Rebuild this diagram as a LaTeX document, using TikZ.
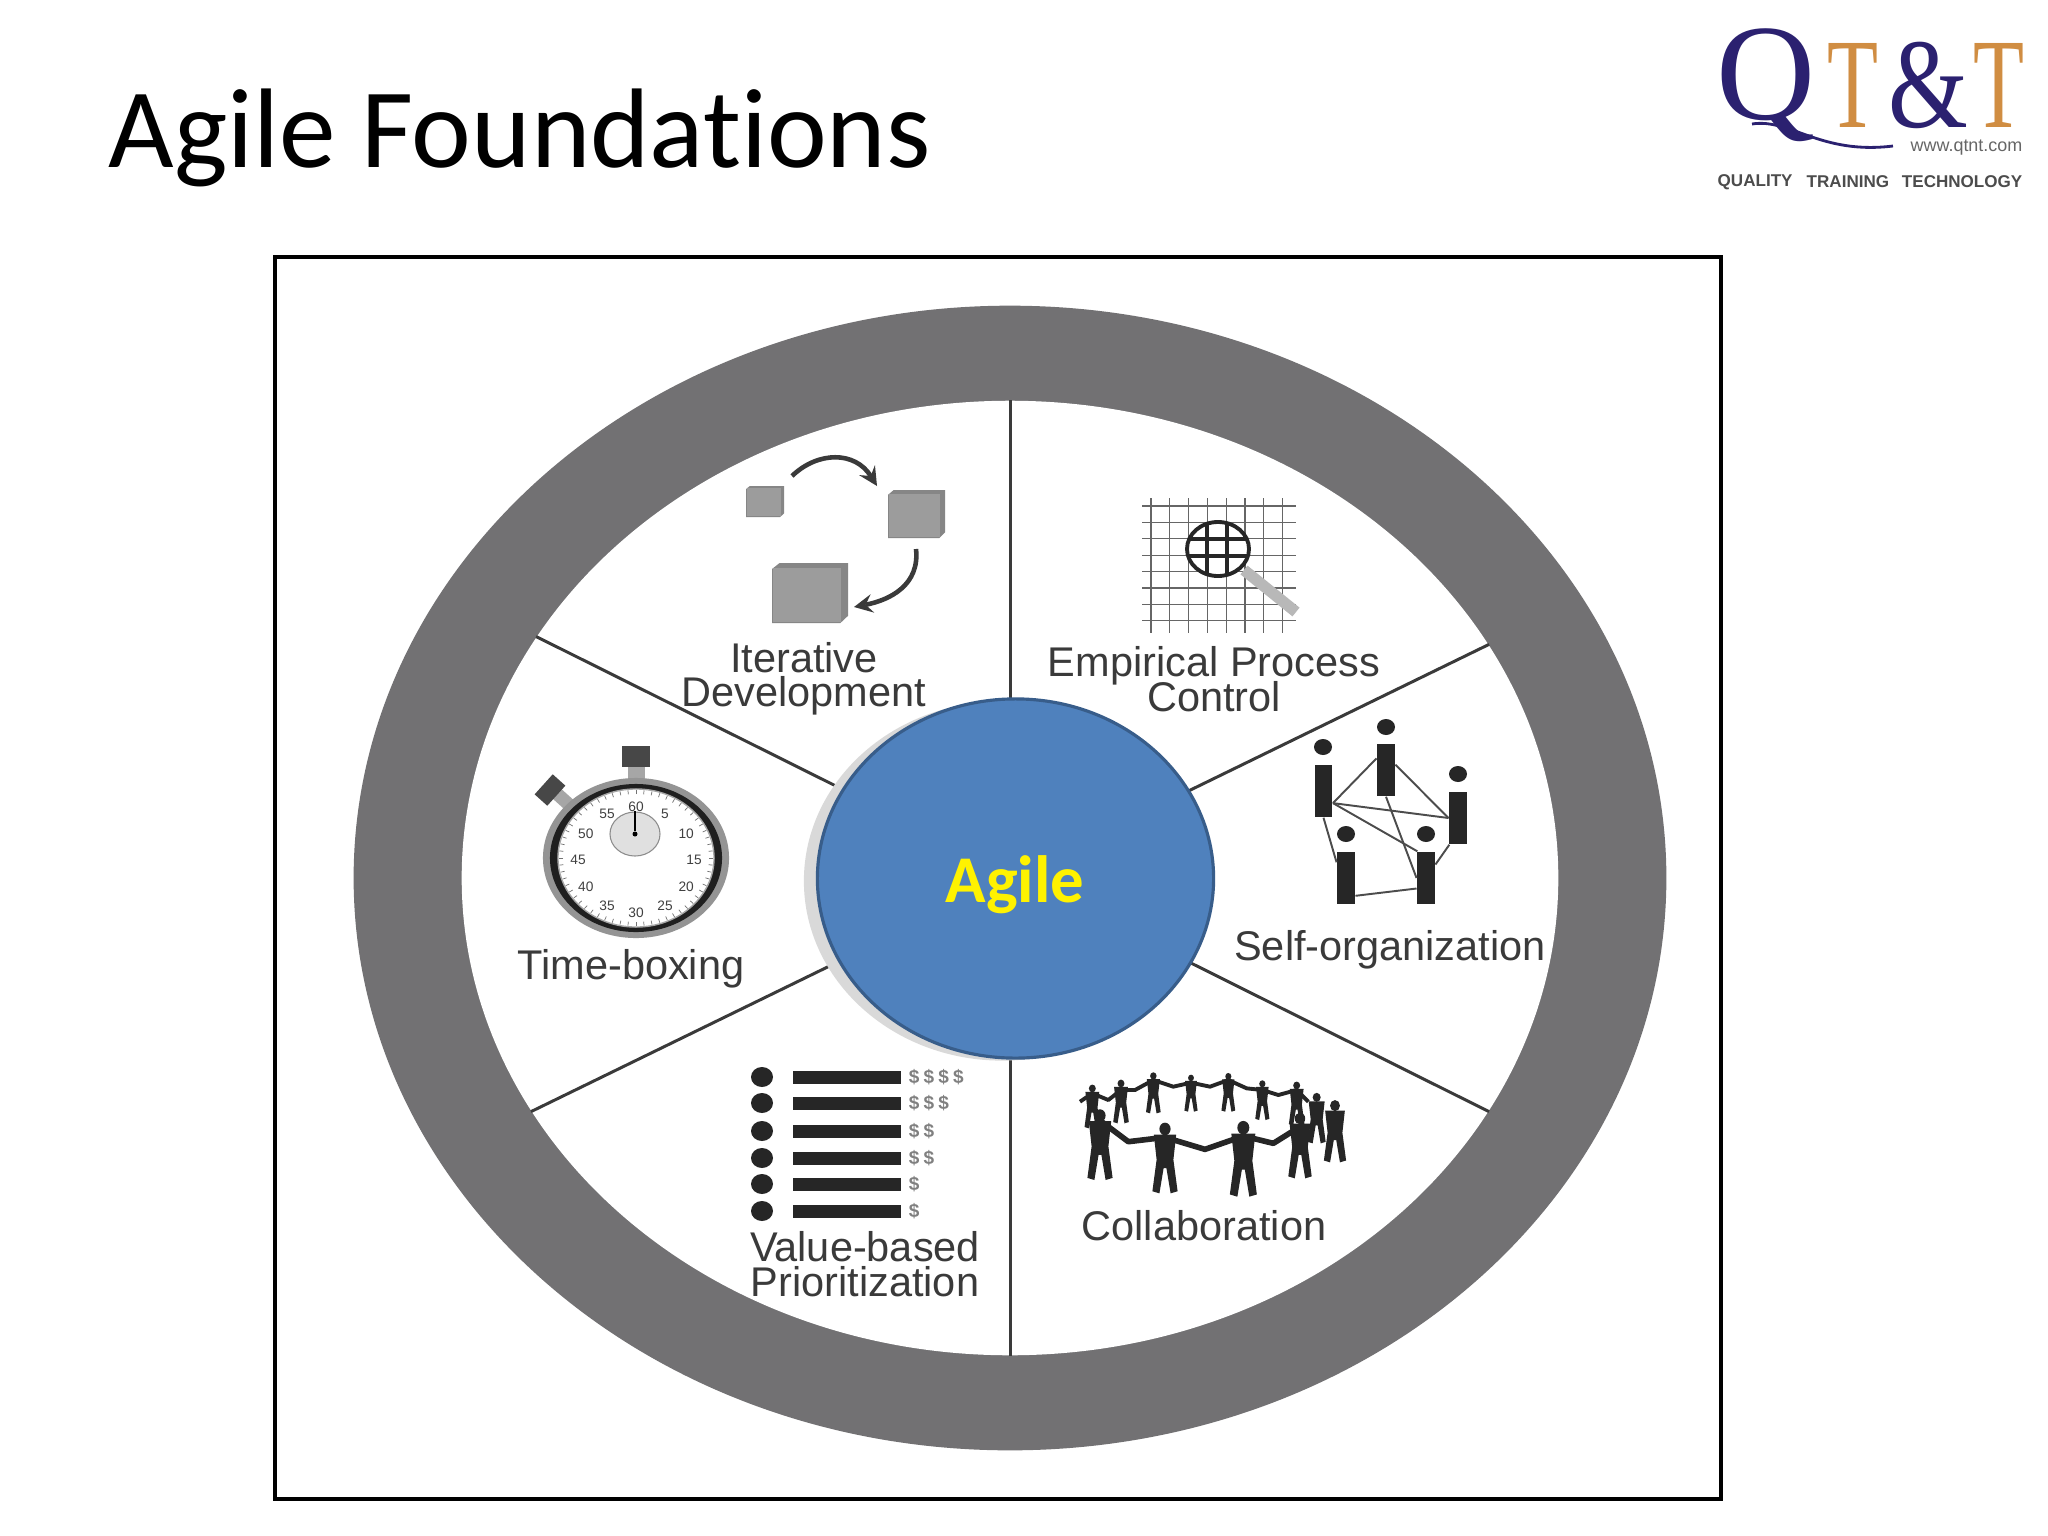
\documentclass[tikz,border=0pt]{standalone}
\usepackage{fontspec}
\setmainfont{Liberation Sans}
\newfontfamily\titlefont[Ligatures=NoCommon]{Carlito}
\newfontfamily\logofont{Liberation Serif}
\usetikzlibrary{shapes.geometric, positioning}
\definecolor{ringgray}{HTML}{727173}
\definecolor{hubblue}{HTML}{4F81BD}
\definecolor{hubedge}{HTML}{385D8A}
\definecolor{inkgray}{HTML}{3A3A3A}
\definecolor{darkfig}{HTML}{262626}
\definecolor{cubefront}{HTML}{9C9C9C}
\definecolor{cubeside}{HTML}{868686}
\definecolor{logonavy}{HTML}{2B2170}
\definecolor{logoorange}{HTML}{D08D42}
\newcommand{\capfont}{\fontsize{11.8pt}{9.8pt}\selectfont\lineskiplimit=-10pt\relax}
\tikzstyle{spoke} = [line width=0.85pt, draw=inkgray]
\tikzstyle{caption} = [align=center, text=inkgray, inner sep=0pt, font=\capfont]
\tikzstyle{cyclearrow} = [line width=1.3pt, draw=inkgray, -stealth]
\tikzstyle{gridline} = [line width=0.3pt, draw=black!60]
\tikzstyle{dialnum} = [inner sep=0pt, text=black!75, font=\fontsize{3.9pt}{4pt}\selectfont]
\tikzstyle{personbody} = [rectangle, fill=darkfig, inner sep=0pt, minimum width=0.175cm, minimum height=0.52cm]
\tikzstyle{personhead} = [ellipse, fill=darkfig, inner sep=0pt, minimum width=0.18cm, minimum height=0.16cm]
\tikzstyle{teamlink} = [line width=0.55pt, draw=black!70]
\tikzstyle{listbar} = [rectangle, fill=darkfig, inner sep=0pt, minimum width=1.08cm, minimum height=0.13cm]
\tikzstyle{listdot} = [ellipse, fill=darkfig, inner sep=0pt, minimum width=0.22cm, minimum height=0.2cm]
\tikzstyle{listcost} = [anchor=west, inner sep=0pt, text=black!50, font=\fontsize{5.4pt}{6pt}\selectfont\bfseries]
\tikzset{
  ringman/.pic={
    \fill[darkfig] (0,8) ellipse (8 and 9);
    \fill[darkfig] (-16,16) -- (16,16) -- (12,52) -- (18,97) -- (8,100) -- (2,64) -- (-2,64) -- (-8,100) -- (-18,97) -- (-12,52) -- cycle;
  }
}
\newcommand{\boxicon}[5]{% name, x1, y1, x2, y2
  \fill[cubeside] ({#2+0.1*(#4-#2)},#3) -- (#4,#3) -- (#4,{#5-0.12*(#5-#3)}) -- ({#4-0.1*(#4-#2)},#5) -- (#2,#5) -- (#2,{#3+0.1*(#5-#3)}) -- cycle;
  \node (#1) [fill=cubefront, inner sep=0pt, minimum width={(0.9*(#4-#2))*0.01cm}, minimum height={(0.9*(#5-#3))*0.01cm}, anchor=south west] at (#2,#5) {};
}
\begin{document}
\begin{tikzpicture}[x=0.01cm, y=-0.01cm]
	\useasboundingbox (0,0) rectangle (2048,1536);
	\fill[white] (0,0) rectangle (2048,1536);
	\node (title) [anchor=base west, inner sep=0pt, font=\titlefont\fontsize{32.2pt}{36pt}\selectfont] at (108,167) {Agile Foundations};
	% logo
	\node (logoq) [inner sep=0pt, text=logonavy, font=\logofont\fontsize{39pt}{40pt}\selectfont] at (1766,85) {Q};
	\node (logot) [inner sep=0pt, text=logoorange, xscale=0.65, font=\logofont\fontsize{36.5pt}{40pt}\selectfont] at (1853,85) {T};
	\node (logoand) [inner sep=0pt, text=logonavy, xscale=0.8, font=\logofont\fontsize{36.5pt}{40pt}\selectfont] at (1928,85) {\&};
	\node (logotb) [inner sep=0pt, text=logoorange, xscale=0.65, font=\logofont\fontsize{36.5pt}{40pt}\selectfont] at (1999,85) {T};
	\coordinate (logotail) at (1893,146);
	\draw[logonavy, line width=0.8pt] (1752,124) .. controls (1790,118) and (1820,155) .. (logotail);
	\node (logoweb) [anchor=east, inner sep=0pt, text=black!60, font=\fontsize{5.1pt}{6pt}\selectfont] at (2023,148) {www.qtnt.com};
	\node (logoa) [anchor=west, inner sep=0pt, text=black!70, font=\fontsize{4.85pt}{6pt}\selectfont\bfseries] at (1717,182) {QUALITY};
	\node (logob) [anchor=west, inner sep=0pt, text=black!70, font=\fontsize{4.85pt}{6pt}\selectfont\bfseries] at (1806,182) {TRAINING};
	\node (logoc) [anchor=east, inner sep=0pt, text=black!70, font=\fontsize{4.85pt}{6pt}\selectfont\bfseries] at (2023,182) {TECHNOLOGY};
	% frame and wheel
	\draw[line width=1.1pt] (275,257) rectangle (1721,1499);
	\node (ring) [ellipse, fill=ringgray, inner sep=0pt, minimum width=13.12cm, minimum height=11.44cm] at (1010,878) {};
	\node (inner) [ellipse, fill=white, inner sep=0pt, minimum width=10.96cm, minimum height=9.54cm] at (1010,878) {};
	\draw[spoke] (inner.north) -- (inner.south);
	\draw[spoke] (inner.153.4) -- (inner.-26.6);
	\draw[spoke] (inner.26.6) -- (inner.206.6);
	\node (hubshadow) [ellipse, fill=black!15, inner sep=0pt, minimum width=3.96cm, minimum height=3.59cm] at (1002,881) {};
	\node (hub) [ellipse, fill=hubblue, draw=hubedge, line width=0.9pt, inner sep=0pt, minimum width=3.96cm, minimum height=3.59cm] at (1015.5,878.5) {};
	\node (hublabel) [inner sep=0pt, text=yellow, font=\titlefont\bfseries\fontsize{19pt}{22pt}\selectfont] at (1015,885) {Agile};
	% iterative development
	\boxicon{cubea}{746}{486}{784}{517}
	\boxicon{cubeb}{888}{490}{945}{538}
	\boxicon{cubec}{772}{563}{848}{623}
	\coordinate (cyca) at (792,476);
	\coordinate (cycb) at (877,486);
	\coordinate (cycc) at (916,549);
	\coordinate (cycd) at (854,607);
	\draw[cyclearrow] (cyca) .. controls (818,451) and (855,451) .. (cycb);
	\draw[cyclearrow] (cycc) .. controls (920,585) and (890,600) .. (cycd);
	\node (lbliter) [caption] at (804,679) {Iterative\\Development};
	% empirical process control
	\foreach \col in {0,...,7}
		\draw[gridline] ({1151+18.8*\col},498) -- ({1151+18.8*\col},633);
	\foreach \row in {0,...,7}
		\draw[gridline] (1142,{506+16.4*\row}) -- (1296,{506+16.4*\row});
	\draw[line width=3.2pt, draw=black!28] (1244,570) -- (1296,612);
	\node (lens) [ellipse, fill=white, draw=darkfig, line width=1.1pt, inner sep=0pt, minimum width=0.62cm, minimum height=0.54cm] at (1218,549) {};
	\begin{scope}
		\clip (1218,549) ellipse (31 and 27);
		\foreach \col in {1207,1227}
			\draw[line width=0.9pt, draw=darkfig] (\col,520) -- (\col,585);
		\foreach \row in {539,556}
			\draw[line width=0.9pt, draw=darkfig] (1180,\row) -- (1255,\row);
	\end{scope}
	\node (lblemp) [caption] at (1214,679) {Empirical Process\\Control};
	% self-organization
	\node (pa) [personbody] at (1323.5,791) {};
	\node (pb) [personbody] at (1386,770) {};
	\node (pc) [personbody] at (1458,818) {};
	\node (pd) [personbody] at (1346,878) {};
	\node (pe) [personbody] at (1426,878) {};
	\node (heada) [personhead] at (1323,747) {};
	\node (headb) [personhead] at (1386,727) {};
	\node (headc) [personhead] at (1458,774) {};
	\node (headd) [personhead] at (1346,834) {};
	\node (heade) [personhead] at (1426,834) {};
	\draw[teamlink] (pa.-52) -- (pb.129);
	\draw[teamlink] (pa.-52) -- (pc.west);
	\draw[teamlink] (pa.-52) -- (pe.108);
	\draw[teamlink] (pa.south) -- (pd.121);
	\draw[teamlink] (pb.29) -- (pc.west);
	\draw[teamlink] (pb.south) -- (pe.west);
	\draw[teamlink] (pc.-108) -- (pe.55);
	\draw[teamlink] (pd.-62) -- (pe.-132);
	\node (lblself) [caption] at (1390,950) {Self-organization};
	% collaboration
	\begin{scope}[shift={(1060,1060)}, scale=1/3]
		\draw[darkfig, line width=1.1pt, line join=round] (60,125) -- (97,100) -- (145,120) -- (183,90) -- (225,90) -- (280,60) -- (340,80) -- (393,68) -- (450,80) -- (505,60) -- (560,85) -- (607,90) -- (655,105) -- (710,90) -- (745,125);
		\draw[darkfig, line width=1.6pt, line join=round] (125,185) -- (205,245) -- (315,232) -- (435,268) -- (550,228) -- (640,250) -- (720,200);
		\foreach \figx/\figy/\figs [count=\figid] in {183/60/1.3, 280/38/1.22, 393/45/1.1, 505/40/1.15, 607/62/1.18, 710/66/1.3, 770/100/1.5, 825/122/1.85, 97/75/1.3, 120/150/2.1, 720/160/1.95, 315/190/2.1, 550/185/2.25}
			\pic (man\figid) [scale=\figs/3] at (\figx,\figy) {ringman};
	\end{scope}
	\node (lblcol) [caption] at (1204,1226) {Collaboration};
	% value-based prioritization
	\foreach \rowy/\cost [count=\rowid] in {1077/\$\kern1.2pt\$\kern1.2pt\$\kern1.2pt\$, 1103/\$\kern1.2pt\$\kern1.2pt\$, 1131/\$\kern1.2pt\$, 1158/\$\kern1.2pt\$, 1184/\$, 1211/\$} {
		\node (dot\rowid) [listdot] at (762,\rowy) {};
		\node (bar\rowid) [listbar, right = 0.19cm of dot\rowid] {};
		\node (cost\rowid) [listcost, right = 0.06cm of bar\rowid] {\cost};
	}
	\node (lblval) [caption] at (865,1264) {Value-based\\Prioritization};
	% time-boxing
	\node (stem) [fill=black!35, inner sep=0pt, minimum width=0.17cm, minimum height=0.16cm] at (636,773) {};
	\node (crown) [fill=black!72, inner sep=0pt, minimum width=0.27cm, minimum height=0.21cm] at (636,756) {};
	\node (sidestem) [fill=black!35, rotate=48, inner sep=0pt, minimum width=0.13cm, minimum height=0.24cm] at (565,801) {};
	\node (sidecrown) [fill=black!72, rotate=48, inner sep=0pt, minimum width=0.27cm, minimum height=0.17cm] at (550,790) {};
	\node (watchcase) [ellipse, fill=black!42, inner sep=0pt, minimum width=1.86cm, minimum height=1.6cm] at (636,858) {};
	\node (watchrim) [ellipse, fill=black!88, inner sep=0pt, minimum width=1.72cm, minimum height=1.48cm] at (636,858) {};
	\node (watchface) [ellipse, fill=white, draw=black!35, inner sep=0pt, minimum width=1.56cm, minimum height=1.38cm] at (636,858) {};
	\foreach \tick in {0,6,...,354}
		\draw[line width=0.2pt, black!55] ({636+73*sin(\tick)},{858-64*cos(\tick)}) -- ({636+77*sin(\tick)},{858-68*cos(\tick)});
	\node (subdial) [ellipse, fill=black!12, draw=black!45, line width=0.3pt, inner sep=0pt, minimum width=0.5cm, minimum height=0.44cm] at (635,834) {};
	\node (subhub) [circle, fill=black, inner sep=0pt, minimum size=0.05cm] at (635,834) {};
	\draw[line width=0.4pt] (subhub) -- (subdial.north);
	\foreach \num in {5,10,...,60}
		\node (dial\num) [dialnum] at ({636+58*sin(6*\num)},{860-53*cos(6*\num)}) {\num};
	\node (lbltime) [caption] at (631,969) {Time-boxing};
\end{tikzpicture}
\end{document}
